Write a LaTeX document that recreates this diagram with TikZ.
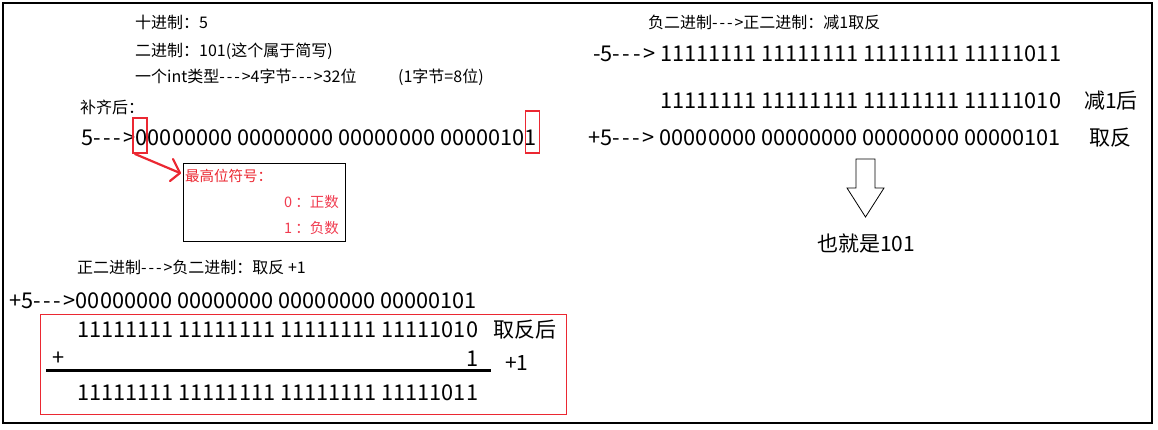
\documentclass[tikz,border=0pt]{standalone}
\usepackage{fontspec}
\setmainfont{Noto Sans CJK SC}[Ligatures=TeXOff]
\definecolor{myred}{RGB}{235,40,50}
\definecolor{mypink}{RGB}{240,60,80}
\newcommand\arr{-\kern.12em-\kern.12em-\kern.12em>}
\begin{document}
\begin{tikzpicture}[x=1pt,y=-1pt,
  small/.style={font=\fontsize{16}{18}\selectfont, inner sep=0pt, anchor=base west},
  big/.style={font=\fontsize{21.75}{26}\selectfont, inner sep=0pt, anchor=base west},
  mid/.style={font=\fontsize{21}{24}\selectfont, inner sep=0pt, anchor=base west},
  redsmall/.style={font=\fontsize{14.5}{17}\selectfont, inner sep=0pt, text=myred},
  redbox/.style={draw=myred, line width=0.9pt, inner sep=0pt},
]
\useasboundingbox (0,0) rectangle (1158,429);
\draw[line width=1.2pt] (3,3) rectangle (1152,423);

% left upper block
\node[small] (t1) at (135,28) {十进制：5};
\node[small] (t2) at (135,56) {二进制：101(这个属于简写)};
\node[small] (t3) at (135,82) {一个int类型\arr{}4字节\arr{}32位};
\node[small] (t3b) at (398,82) {(1字节=8位)};
\node[small] (t4) at (80,113) {补齐后：};
\node[big] (t5) at (81,145) {5\arr{}00000000 00000000 00000000 00000101};

\node[redbox, line width=1.1pt, minimum width=14pt, minimum height=35pt] (r1) at (140,135.5) {};
\node[redbox, line width=1.1pt, minimum width=14pt, minimum height=42pt] (r2) at (532.4,132) {};

\node[draw, line width=0.8pt, minimum width=162pt, minimum height=78pt, inner sep=0pt] (box) at (264,202) {};
\node[redsmall, anchor=base west] (b1) at (185,181.5) {最高位符号：};
\node[redsmall, anchor=base east, text=mypink] (b2) at (339,207.5) {0 ：正数};
\node[redsmall, anchor=base east, text=mypink] (b3) at (339,233.5) {1 ：负数};

\coordinate (a0) at (135,154);
\coordinate (a1) at (180,173);
\coordinate (a2) at (173,159);
\coordinate (a3) at (170,181);
\draw[myred, line width=2.2pt, line cap=round, line join=round] (a0) -- (a1);
\draw[myred, line width=2.2pt, line cap=round, line join=round] (a2) -- (a1) -- (a3);

% left lower block
\node[small] (t6) at (77,273) {正二进制\arr{}负二进制：取反 +1};
\node[big] (t7) at (9,308) {+5\arr{}00000000 00000000 00000000 00000101};
\node[redbox, minimum width=526pt, minimum height=100pt] (r3) at (303,364) {};
\node[big] (l1) at (77,337) {11111111 11111111 11111111 11111010};
\node[mid] (l1b) at (493,337) {取反后};
\node[big] (plus) at (52,365) {+};
\node[big] (one) at (466,366) {1};
\node[mid] (p1) at (505,370) {+1};
\coordinate (s0) at (46,370);
\coordinate (s1) at (491,370);
\draw[line width=3pt] (s0) -- (s1);
\node[big] (l2) at (77,400) {11111111 11111111 11111111 11111011};

% right block
\node[small] (u1) at (648,28) {负二进制\arr{}正二进制：减1取反};
\node[big] (u2) at (593,61) {-5\arr{} 11111111 11111111 11111111 11111011};
\node[big] (u3) at (660,108) {11111111 11111111 11111111 11111010};
\node[mid] (u3b) at (1084,108) {减1后};
\node[big] (u4) at (588,145) {+5\arr{} 00000000 00000000 00000000 00000101};
\node[mid] (u4b) at (1089,145) {取反};
\draw[line width=0.8pt, line join=miter] (856,159) -- (875,159) -- (875,188) -- (884,188) -- (865.5,217) -- (847,188) -- (856,188) -- cycle;
\node[mid, anchor=base] (u5) at (866,251) {也就是101};
\end{tikzpicture}
\end{document}
